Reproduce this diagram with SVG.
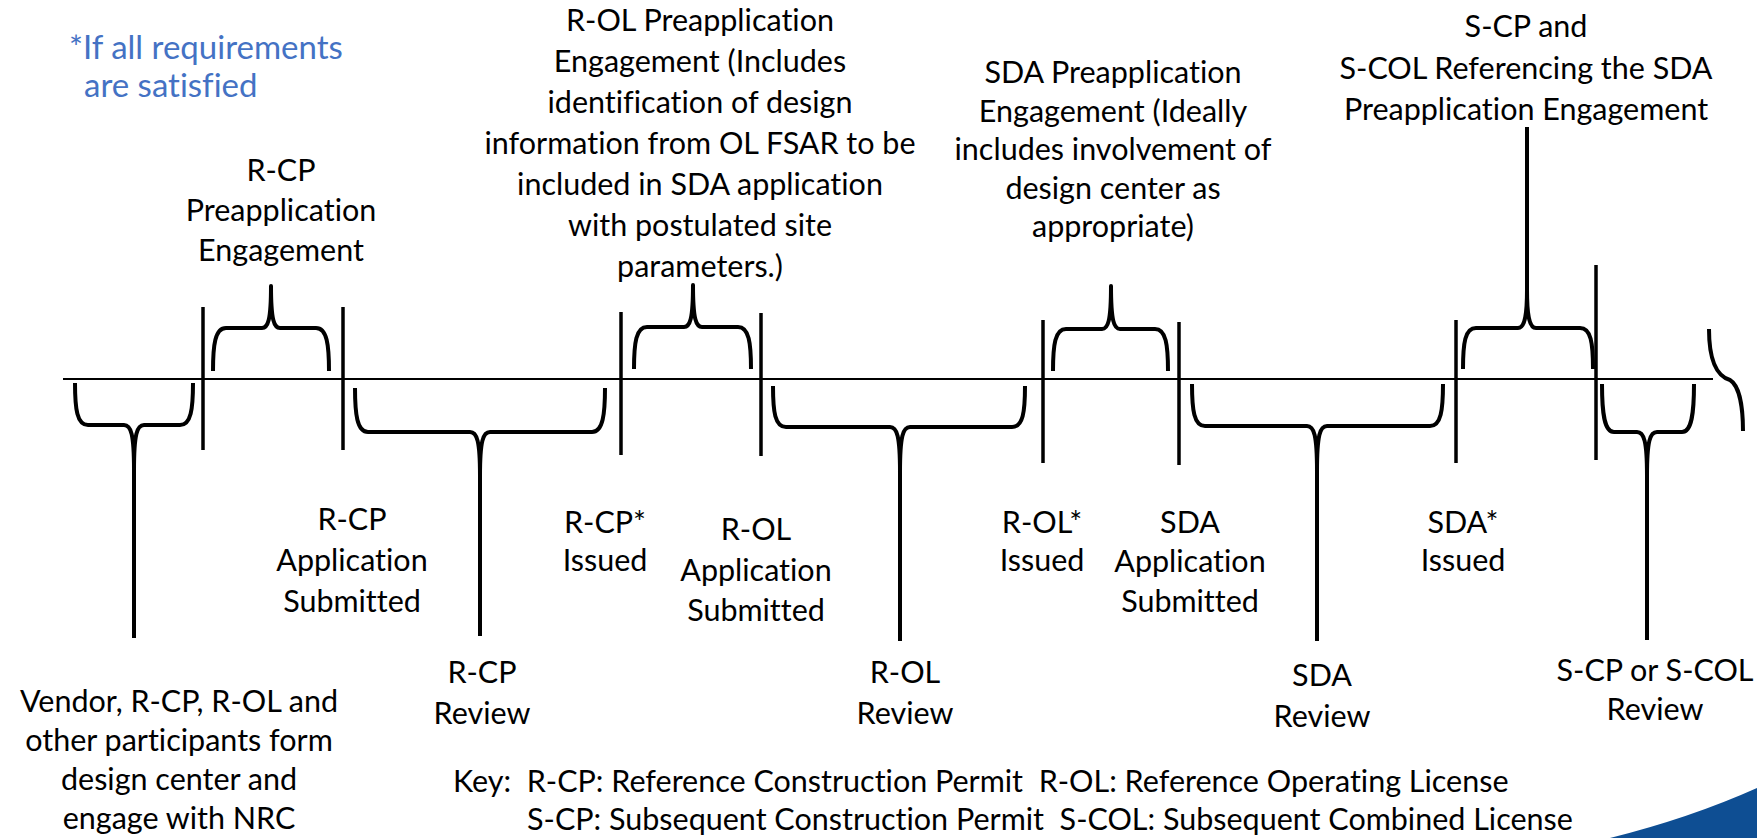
<svg xmlns="http://www.w3.org/2000/svg" width="1757" height="838" viewBox="0 0 1757 838">
  <style>
    text { font-family: Lato, "Open Sans", "Liberation Sans", sans-serif; font-size: 30.5px; fill: #000; font-variant-ligatures: none; }
    .c { text-anchor: middle; }
    .note { fill: #4472C4; font-size: 33px; }
    .axis { stroke: #000; stroke-width: 2; fill: none; }
    .tick { stroke: #000; stroke-width: 3.5; fill: none; }
    .brace { stroke: #000; stroke-width: 4; fill: none; stroke-linejoin: round; }
  </style>

  <!-- corner accent -->
  <path d="M1610,838 Q1690,818 1757,788 L1757,838 Z" fill="#0E4E93"/>

  <!-- note -->
  <g id="note">
    <text class="note" x="69" y="59">*If all requirements</text>
    <text class="note" x="84" y="97">are satisfied</text>
  </g>

  <!-- timeline, event ticks and braces -->
  <g id="connectors">
    <line class="axis" x1="63" y1="379" x2="1713" y2="379"/>

    <line class="tick" x1="203" y1="307" x2="203" y2="450"/>
    <line class="tick" x1="343" y1="307" x2="343" y2="450"/>
    <line class="tick" x1="621" y1="312" x2="621" y2="455"/>
    <line class="tick" x1="761" y1="313" x2="761" y2="456"/>
    <line class="tick" x1="1043" y1="320" x2="1043" y2="463"/>
    <line class="tick" x1="1179" y1="322" x2="1179" y2="465"/>
    <line class="tick" x1="1456" y1="320" x2="1456" y2="463"/>
    <line class="tick" x1="1596" y1="265" x2="1596" y2="460"/>

    <!-- braces above the axis (tip up) -->
    <path class="brace" d="M213,371 C213,345 215,328 226,328 L262,328 C268,328 271,320 271,286 C271,320 274,328 280,328 L316,328 C327,328 329,345 329,371"/>
    <path class="brace" d="M634,369 C634,343 636,327 647,327 L684,327 C690,327 693,319 693,285 C693,319 696,327 702,327 L738,327 C749,327 751,343 751,369"/>
    <path class="brace" d="M1053,371 C1053,345 1055,329 1066,329 L1102,329 C1108,329 1111,321 1111,286 C1111,321 1114,329 1120,329 L1155,329 C1166,329 1168,345 1168,371"/>
    <path class="brace" d="M1463,369 C1463,343 1465,328 1476,328 L1518,328 C1524,328 1527,318 1527,290 L1527,127 M1527,290 C1527,318 1530,328 1536,328 L1580,328 C1591,328 1593,343 1593,369"/>

    <!-- braces below the axis (tip down) -->
    <path class="brace" d="M75,383 C75,409 77,425 88,425 L124,425 C131,425 134,434 134,470 L134,638 M134,470 C134,434 137,425 144,425 L180,425 C191,425 193,409 193,383"/>
    <path class="brace" d="M355,388 C355,414 357,432 368,432 L470,432 C477,432 480,441 480,476 L480,636 M480,476 C480,441 483,432 490,432 L592,432 C603,432 605,414 605,388"/>
    <path class="brace" d="M773,386 C773,412 775,427 786,427 L890,427 C897,427 900,436 900,472 L900,641 M900,472 C900,436 903,427 910,427 L1012,427 C1023,427 1025,412 1025,386"/>
    <path class="brace" d="M1192,384 C1192,410 1194,426 1205,426 L1307,426 C1314,426 1317,435 1317,471 L1317,641 M1317,471 C1317,435 1320,426 1327,426 L1430,426 C1441,426 1443,410 1443,384"/>
    <path class="brace" d="M1602,384 C1602,412 1604,432 1614,432 L1637,432 C1644,432 1647,441 1647,476 L1647,640 M1647,476 C1647,441 1650,432 1657,432 L1682,432 C1692,432 1694,412 1694,384"/>

    <!-- continuation mark at the end of the axis -->
    <path class="brace" d="M1709,329 C1709,360 1716,376 1730,380 C1740,386 1743,410 1743,431"/>
  </g>

  <!-- labels above the axis -->
  <g id="rcp-preapp">
    <text class="c" x="281" y="181">R-CP</text>
    <text class="c" x="281" y="221">Preapplication</text>
    <text class="c" x="281" y="261">Engagement</text>
  </g>
  <g id="rol-preapp">
    <text class="c" x="700" y="31">R-OL Preapplication</text>
    <text class="c" x="700" y="72">Engagement (Includes</text>
    <text class="c" x="700" y="113">identification of design</text>
    <text class="c" x="700" y="154">information from OL FSAR to be</text>
    <text class="c" x="700" y="195">included in SDA application</text>
    <text class="c" x="700" y="236">with postulated site</text>
    <text class="c" x="700" y="277">parameters.)</text>
  </g>
  <g id="sda-preapp">
    <text class="c" x="1113" y="83">SDA Preapplication</text>
    <text class="c" x="1113" y="122">Engagement (Ideally</text>
    <text class="c" x="1113" y="160">includes involvement of</text>
    <text class="c" x="1113" y="199">design center as</text>
    <text class="c" x="1113" y="237">appropriate)</text>
  </g>
  <g id="scp-scol-preapp">
    <text class="c" x="1526" y="37">S-CP and</text>
    <text class="c" x="1526" y="79">S-COL Referencing the SDA</text>
    <text class="c" x="1526" y="120">Preapplication Engagement</text>
  </g>

  <!-- labels below the axis -->
  <g id="design-center">
    <text class="c" x="179" y="712">Vendor, R-CP, R-OL and</text>
    <text class="c" x="179" y="751">other participants form</text>
    <text class="c" x="179" y="790">design center and</text>
    <text class="c" x="179" y="829">engage with NRC</text>
  </g>
  <g id="rcp-submitted">
    <text class="c" x="352" y="530">R-CP</text>
    <text class="c" x="352" y="571">Application</text>
    <text class="c" x="352" y="612">Submitted</text>
  </g>
  <g id="rcp-review">
    <text class="c" x="482" y="683">R-CP</text>
    <text class="c" x="482" y="724">Review</text>
  </g>
  <g id="rcp-issued">
    <text class="c" x="605" y="533">R-CP*</text>
    <text class="c" x="605" y="571">Issued</text>
  </g>
  <g id="rol-submitted">
    <text class="c" x="756" y="540">R-OL</text>
    <text class="c" x="756" y="581">Application</text>
    <text class="c" x="756" y="621">Submitted</text>
  </g>
  <g id="rol-review">
    <text class="c" x="905" y="683">R-OL</text>
    <text class="c" x="905" y="724">Review</text>
  </g>
  <g id="rol-issued">
    <text class="c" x="1042" y="533">R-OL*</text>
    <text class="c" x="1042" y="571">Issued</text>
  </g>
  <g id="sda-submitted">
    <text class="c" x="1190" y="533">SDA</text>
    <text class="c" x="1190" y="572">Application</text>
    <text class="c" x="1190" y="612">Submitted</text>
  </g>
  <g id="sda-review">
    <text class="c" x="1322" y="686">SDA</text>
    <text class="c" x="1322" y="727">Review</text>
  </g>
  <g id="sda-issued">
    <text class="c" x="1463" y="533">SDA*</text>
    <text class="c" x="1463" y="571">Issued</text>
  </g>
  <g id="scp-scol-review">
    <text class="c" x="1655" y="681">S-CP or S-COL</text>
    <text class="c" x="1655" y="720">Review</text>
  </g>

  <!-- abbreviation key -->
  <g id="key">
    <text x="453" y="792" xml:space="preserve">Key:  R-CP: Reference Construction Permit  R-OL: Reference Operating License</text>
    <text x="527" y="830" xml:space="preserve">S-CP: Subsequent Construction Permit  S-COL: Subsequent Combined License</text>
  </g>
</svg>
